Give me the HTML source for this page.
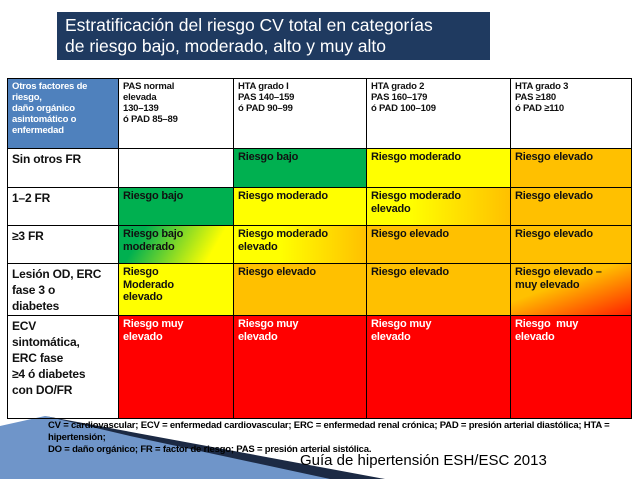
<!DOCTYPE html>
<html><head><meta charset="utf-8"><style>
body{margin:0;width:638px;height:479px;background:#fff;position:relative;overflow:hidden;font-family:"Liberation Sans",sans-serif}
.t{position:absolute;left:57px;top:12px;width:433px;height:48px;background:#1f3a60;color:#fff;font-size:17.5px;line-height:21px;padding:3px 0 0 8px;box-sizing:border-box}
.c{position:absolute;border:1px solid #000;box-sizing:border-box;padding:2px 4px;font-size:11px;font-weight:bold;line-height:12.5px;color:#111;overflow:hidden;letter-spacing:-0.2px}
.h{font-size:9.5px;line-height:11px}
.r{font-size:12px;line-height:16px}
.g{background:#00b050}.y{background:#ffff00}.o{background:#ffc000}.rd{background:#ff0000;color:#fff}
.fn{position:absolute;left:48px;top:420px;font-size:9.5px;font-weight:bold;line-height:12px;width:570px;letter-spacing:-0.2px}
.src{position:absolute;left:300px;top:452px;font-size:15px}
</style></head><body>
<svg style="position:absolute;left:0;top:410px" width="400" height="69"><polygon points="0,16 45,6 360,69 0,69" fill="#6f95c9"/><polygon points="45,6 130,26 330,69 385,69" fill="#1c2a44"/></svg>
<div class="t">Estratificación del riesgo CV total en categorías<br>de riesgo bajo, moderado, alto y muy alto</div>
<div id="tbl"></div>
<div class="fn">CV = cardiovascular; ECV = enfermedad cardiovascular; ERC = enfermedad renal crónica; PAD = presión arterial diastólica; HTA = hipertensión;<br>DO = daño orgánico; FR = factor de riesgo; PAS = presión arterial sistólica.</div>
<div class="src">Guía de hipertensión ESH/ESC 2013</div>
<script>
const xs=[7,118,233,366,510,631];
const ys=[78,148,187,225,263,315,418];
const rows=[
 [["h","background:#4f81bd;color:#fff","Otros factores de riesgo,<br>daño orgánico asintomático o enfermedad"],["h","","PAS normal<br>elevada<br>130–139<br>ó PAD 85–89"],["h","","HTA grado I<br>PAS 140–159<br>ó PAD 90–99"],["h","","HTA grado 2<br>PAS 160–179<br>ó PAD 100–109"],["h","","HTA grado 3<br>PAS ≥180<br>ó PAD ≥110"]],
 [["r","","Sin otros FR"],["",""," "],["g","","Riesgo bajo"],["y","","Riesgo moderado"],["o","","Riesgo elevado"]],
 [["r","","1–2 FR"],["g","","Riesgo bajo"],["y","","Riesgo moderado"],["","background:linear-gradient(90deg,#ffff00 30%,#ffc000)","Riesgo moderado<br>elevado"],["o","","Riesgo elevado"]],
 [["r","","≥3 FR"],["","background:linear-gradient(120deg,#00b050 20%,#ffff00 80%)","Riesgo bajo<br>moderado"],["","background:linear-gradient(90deg,#ffff00 35%,#ffc000)","Riesgo moderado<br>elevado"],["o","","Riesgo elevado"],["o","","Riesgo elevado"]],
 [["r","","Lesión OD, ERC<br>fase 3 o<br>diabetes"],["y","","Riesgo<br>Moderado<br>elevado"],["o","","Riesgo elevado"],["o","","Riesgo elevado"],["","background:linear-gradient(160deg,#ffc000 40%,#ff2000)","Riesgo elevado –<br>muy elevado"]],
 [["r","","ECV<br>sintomática,<br>ERC fase<br>≥4 ó diabetes<br>con DO/FR"],["rd","","Riesgo muy<br>elevado"],["rd","","Riesgo muy<br>elevado"],["rd","","Riesgo muy<br>elevado"],["rd","","Riesgo &nbsp;muy<br>elevado"]]
];
const tbl=document.getElementById('tbl');
rows.forEach((row,ri)=>row.forEach((c,ci)=>{
 const d=document.createElement('div');
 
 
 d.className='c '+c[0];
 d.style.cssText=c[1]+`;left:${xs[ci]}px;top:${ys[ri]}px;width:${xs[ci+1]-xs[ci]+1}px;height:${ys[ri+1]-ys[ri]+1}px`;
 d.innerHTML=c[2];
 tbl.appendChild(d);
}));
</script>
</body></html>
